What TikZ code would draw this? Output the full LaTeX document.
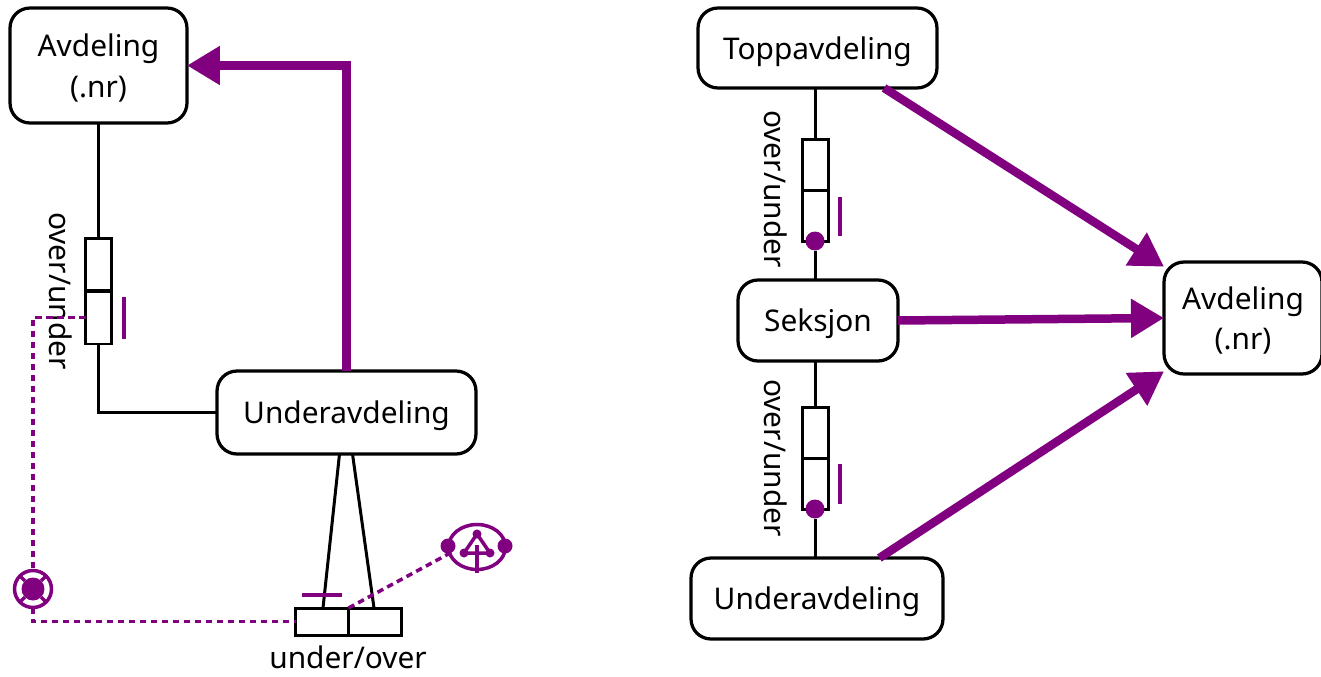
\documentclass[tikz,border=0pt]{standalone}
\usepackage{fontspec}
\setmainfont{Noto Sans}
\usepackage{tikz}
\usetikzlibrary{arrows.meta,shapes.geometric}
\definecolor{lilla}{HTML}{800080}

\begin{document}
\begin{tikzpicture}[x=0.02cm,y=-0.02cm,
   every node/.style={font=\fontsize{17}{23}\selectfont,inner sep=0pt,outer sep=0pt},
   entity/.style={draw,line width=0.065cm,rounded corners=0.4cm,align=center,text depth=0pt},
   role/.style={draw,line width=0.06cm,minimum width=0.52cm,minimum height=#1},
   rolewide/.style={draw,line width=0.06cm,minimum width=1.06cm,minimum height=0.54cm},
   conn/.style={line width=0.06cm},
   flow/.style={draw=lilla,line width=0.17cm,-{Triangle[length=0.66cm,width=0.74cm]}},
   uniq/.style={draw=lilla,line width=0.08cm},
   note/.style={draw=lilla,line width=0.07cm,dash pattern=on 0.13cm off 0.09cm},
   dot/.style={circle,fill=lilla,minimum size=#1},
   icon/.style={draw=lilla,line width=0.07cm}]
   \useasboundingbox (0,0) rectangle (1321,676);

   \node[entity,minimum width=3.54cm,minimum height=2.3cm] (avd) at (98.5,65.5) {Avdeling\\(.nr)};
   \node[entity,minimum width=5.18cm,minimum height=1.66cm] (under) at (346.5,412.5) {Underavdeling};
   \node[role=1.06cm] (r1) at (98.5,264.5) {};
   \node[role=1.06cm] (r2) at (98.5,317.5) {};
   \node[rolewide] (u1) at (322,621.5) {};
   \node[rolewide] (u2) at (375,621.5) {};
   \node[rotate=-90] (ou) at (61,291) {over/under};
   \node (uo) at (348,657) {under/over};
   \node[circle,draw=lilla,line width=0.07cm,minimum size=0.74cm] (sub) at (33,589) {};
   \node[dot=0.46cm] (subin) at (33,589) {};
   \node[ellipse,draw=lilla,line width=0.07cm,minimum width=1.14cm,minimum height=0.9cm] (ring) at (477,547) {};
   \node[dot=0.3cm] (ringl) at (448,546) {};
   \node[dot=0.3cm] (ringr) at (505,546) {};
   \node[dot=0.18cm] (tria) at (477,534) {};
   \node[dot=0.18cm] (trib) at (464,553) {};
   \node[dot=0.18cm] (tric) at (490,553) {};
   \coordinate (ringb) at (477,573);
   \coordinate (ringm) at (477,545);

   \draw[conn] (avd) -- (r1);
   \draw[conn] (r2) |- (under);
   \draw[conn] ([xshift=-0.14cm]under.south) -- ([xshift=0.02cm]u1.north);
   \draw[conn] ([xshift=0.12cm]under.south) -- ([xshift=-0.02cm]u2.north);
   \draw[flow] (under.north) |- (avd.east);
   \draw[uniq] (124,297) -- (124,339);
   \draw[uniq] (302,595) -- (342,595);
   \draw[note] (r2.west) -| (sub.north);
   \draw[note] (sub.south) |- (u1.west);
   \draw[note] (u1.north east) -- (ringl.south east);
   \draw[icon] (tria.center) -- (trib.center) -- (tric.center) -- cycle;
   \draw[icon] (ringb) -- (ringm);
   \draw[icon] (sub.45) -- (subin.45);
   \draw[icon] (sub.135) -- (subin.135);
   \draw[icon] (sub.225) -- (subin.225);
   \draw[icon] (sub.315) -- (subin.315);

   \node[entity,minimum width=4.78cm,minimum height=1.6cm] (topp) at (817.5,48) {Toppavdeling};
   \node[entity,minimum width=3.2cm,minimum height=1.62cm] (seks) at (818,320.5) {Seksjon};
   \node[entity,minimum width=5.04cm,minimum height=1.62cm] (underb) at (817,598.5) {Underavdeling};
   \node[entity,minimum width=3.16cm,minimum height=2.24cm] (avdb) at (1243,318) {Avdeling\\(.nr)};
   \node[role=1.02cm] (a1) at (815,165) {};
   \node[role=1.02cm] (a2) at (815,216) {};
   \node[role=1.02cm] (b1) at (815,433) {};
   \node[role=1.02cm] (b2) at (815,484) {};
   \node[dot=0.38cm] (adot) at (815,241) {};
   \node[dot=0.38cm] (bdot) at (815,509) {};
   \node[rotate=-90] (oua) at (776,189) {over/under};
   \node[rotate=-90] (oub) at (776,458) {over/under};

   \draw[conn] (topp.south -| a1) -- (a1);
   \draw[conn] (adot) -- (seks.north -| adot);
   \draw[conn] (seks.south -| b1) -- (b1);
   \draw[conn] (bdot) -- (underb.north -| bdot);
   \draw[uniq] (840,197) -- (840,236);
   \draw[uniq] (840,464) -- (840,504);
   \draw[flow] (topp.-31.8) -- (avdb.147.7);
   \draw[flow] (seks.east) -- (avdb.west);
   \draw[flow] (underb.33.6) -- (avdb.214.4);
\end{tikzpicture}
\end{document}
